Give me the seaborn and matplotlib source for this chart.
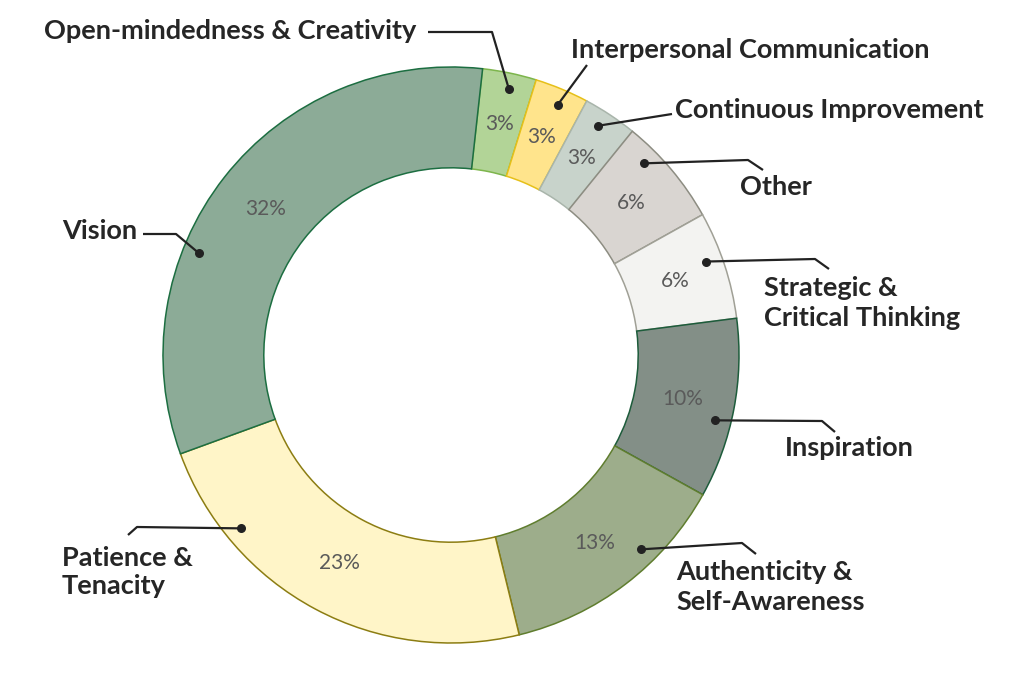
import numpy as np
import matplotlib
matplotlib.use("Agg")
import matplotlib.pyplot as plt
import seaborn as sns

sns.set_theme(style="white")
plt.rcParams["font.family"] = ["Lato", "DejaVu Sans"]

# data, clockwise from the top
skills = [
    "Open-mindedness & Creativity",
    "Interpersonal Communication",
    "Continuous Improvement",
    "Other",
    "Strategic &\nCritical Thinking",
    "Inspiration",
    "Authenticity &\nSelf-Awareness",
    "Patience &\nTenacity",
    "Vision",
]
shares = [3, 3, 3, 6, 6, 10, 13, 23, 32]

fills = ["#b2d497", "#ffe48c", "#c8d3cb", "#d9d5d1", "#f3f3f1",
         "#838f87", "#9dad8b", "#fff5c8", "#8cab97"]
edges = ["#7db54c", "#e6c019", "#a9b5ab", "#8d8d82", "#a0a096",
         "#1d5c3b", "#5f7d2e", "#8c7d12", "#1c6e41"]

# layout in pixel space (y measured from the top of the image)
W, H = 1024, 683
cx, cy, R = 451, 355, 288
dot_r = 272
# angle (deg clockwise from 12 o'clock) where each leader dot sits
dot_ang = [12.3, 23.1, 32.6, 45.2, 69.9, 103.9, 135.6, 230.4, 292.0]
# leader line points from dot outward, then text position
leaders = [
    [(492, 32), (428, 32)],
    [(587, 65)],
    [(672, 114)],
    [(748, 160), (763, 170)],
    [(815, 259), (829, 269)],
    [(822, 421), (835, 432)],
    [(742, 543), (756, 554)],
    [(137, 527), (128, 535)],
    [(176, 234), (143, 234)],
]
text_pos = [
    (416, 31, "right"),
    (571, 50, "left"),
    (675, 110, "left"),
    (740, 187, "left"),
    (764, 303, "left"),
    (785, 448, "left"),
    (676, 587, "left"),
    (62, 572, "left"),
    (62, 231, "left"),
]

fig = plt.figure(figsize=(W / 100, H / 100), dpi=100)
ax = fig.add_axes([0, 0, 1, 1])

total = sum(shares)
start = 90 - 6.3
wedges, _, pcts = ax.pie(
    shares, colors=fills, startangle=start, counterclock=False,
    center=(cx, H - cy), radius=R, frame=True,
    autopct=lambda p: f"{round(p * total / 100):.0f}%", pctdistance=0.82,
    wedgeprops=dict(width=R * 0.35, linewidth=1.1),
    textprops=dict(color="#5a5a5a", fontsize=15),
)
for w, ec in zip(wedges, edges):
    w.set_edgecolor(ec)
ax.set_xlim(0, W)
ax.set_ylim(0, H)
ax.set_aspect("equal")
ax.axis("off")

for ang, pts, (tx, ty, ha), lab in zip(dot_ang, leaders, text_pos, skills):
    a = np.deg2rad(ang)
    dx, dy = cx + dot_r * np.sin(a), cy - dot_r * np.cos(a)
    xs = [dx] + [p[0] for p in pts]
    ys = [H - dy] + [H - p[1] for p in pts]
    ax.plot(xs, ys, color="#222222", lw=1.6, solid_capstyle="butt", zorder=5)
    ax.scatter([dx], [H - dy], s=30, color="#222222", zorder=6)
    ax.text(tx, H - ty, lab, ha=ha, va="center", fontsize=19.5,
            fontweight="bold", color="#262626", linespacing=1.25)

fig.savefig("out.png", dpi=100, facecolor="white")
